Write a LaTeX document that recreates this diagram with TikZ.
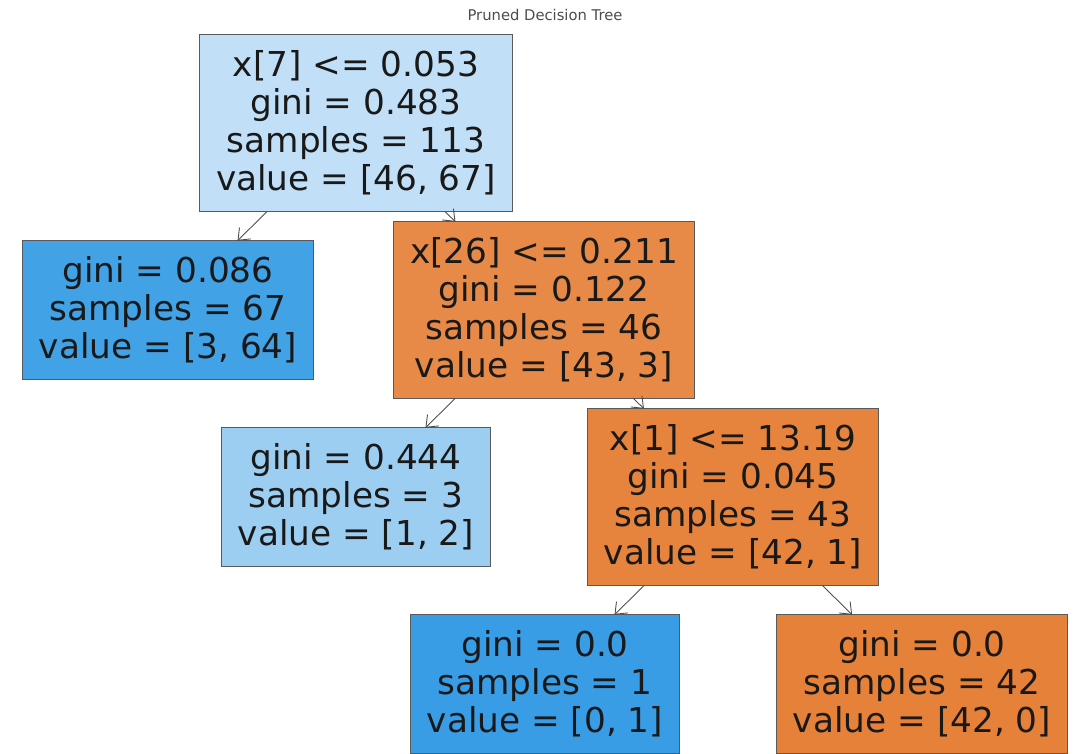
\documentclass[tikz,border=0pt]{standalone}
\usepackage{fontspec}
\setmainfont{DejaVu Sans}
\usepackage{xcolor}
\usepackage{tikz}
\usetikzlibrary{arrows.meta, positioning}
\definecolor{rootblue}{RGB}{193,224,247}
\definecolor{deepblue}{RGB}{66,162,230}
\definecolor{paleblue}{RGB}{156,206,242}
\definecolor{fullblue}{RGB}{57,157,229}
\definecolor{midorange}{RGB}{231,138,71}
\definecolor{deeporange}{RGB}{230,132,62}
\definecolor{fullorange}{RGB}{229,129,57}
\tikzstyle{arrow} = [draw=black!70, line width=0.5pt, -{Straight Barb[length=2mm, width=3.2mm]}]

\begin{document}
\begin{tikzpicture}[
    box/.style={draw=black!65, line width=0.6pt, rectangle, align=center, inner xsep=0.33cm, inner ysep=0.32cm, outer sep=0pt, text=black!90, font=\fontsize{19.5}{21.6}\selectfont},
    title/.style={font=\fontsize{8.4}{10}\selectfont, text=black!70}
]
\useasboundingbox (0,0) rectangle (21.58,15.08);
\node[title] (head) at (10.9,14.78) {Pruned Decision Tree};
% split nodes and leaves
\node[box, fill=rootblue] (root) at (7.12,12.62) {x[7] <= 0.053 \\ gini = 0.483 \\ samples = 113 \\ value = [46, 67]};
\node[box, fill=deepblue] (leafa) at (3.36,8.88) {gini = 0.086 \\ samples = 67 \\ value = [3, 64]};
\node[box, fill=midorange] (splitb) at (10.88,8.88) {x[26] <= 0.211 \\ gini = 0.122 \\ samples = 46 \\ value = [43, 3]};
\node[box, fill=paleblue] (leafb) at (7.12,5.14) {gini = 0.444 \\ samples = 3 \\ value = [1, 2]};
\node[box, fill=deeporange] (splitc) at (14.66,5.14) {x[1] <= 13.19 \\ gini = 0.045 \\ samples = 43 \\ value = [42, 1]};
\node[box, fill=fullblue] (leafc) at (10.90,1.40) {gini = 0.0 \\ samples = 1 \\ value = [0, 1]};
\node[box, fill=fullorange] (leafd) at (18.44,1.40) {gini = 0.0 \\ samples = 42 \\ value = [42, 0]};
% edges
\draw[arrow] (root) -- (leafa);
\draw[arrow] (root) -- (splitb);
\draw[arrow] (splitb) -- (leafb);
\draw[arrow] (splitb) -- (splitc);
\draw[arrow] (splitc) -- (leafc);
\draw[arrow] (splitc) -- (leafd);
\end{tikzpicture}
\end{document}
